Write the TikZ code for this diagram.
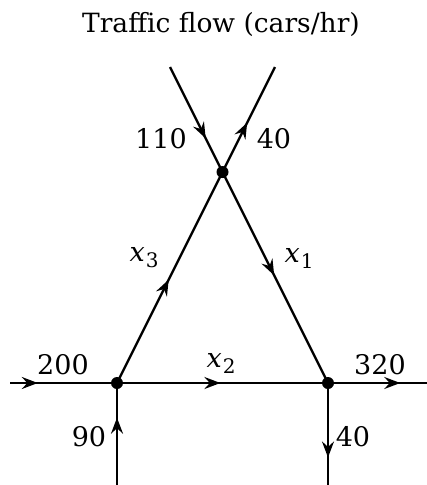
\documentclass[tikz,border=0pt]{standalone}
\usepackage{fontspec}
\setmainfont{DejaVu Serif}
\usetikzlibrary{arrows.meta,decorations.markings}
\tikzset{
  flow/.style={line width=2.3pt},
  flowarrow/.style={flow,postaction={decorate,decoration={markings,
      mark=at position #1 with {\arrow{Stealth[length=16pt,width=12pt,inset=5.5pt]}}}}},
  junction/.style={circle,fill=black,inner sep=0pt,minimum size=12pt},
  lbl/.style={inner sep=0pt,font=\fontsize{27}{32}\selectfont},
  ttl/.style={inner sep=0pt,font=\fontsize{26.5}{31}\selectfont}
}
\newcommand{\flowvar}[1]{\textit{x}\kern1pt\raisebox{-6pt}{\fontsize{20}{20}\selectfont #1}}
\begin{document}
\begin{tikzpicture}[x=1pt,y=-1pt]
\useasboundingbox (0,0) rectangle (427,485);
% coordinates
\coordinate (T) at (222.5,172);
\coordinate (L) at (117,383);
\coordinate (R) at (328,383);
\coordinate (TL) at (170,67);
\coordinate (TR) at (275,67);
\coordinate (W) at (10,383);
\coordinate (E) at (427,383);
\coordinate (SL) at (117,485);
\coordinate (SR) at (328,485);
% connectors
\draw[flowarrow=0.68] (TL) -- (T);
\draw[flowarrow=0.47] (T) -- (TR);
\draw[flowarrow=0.49] (L) -- (T);
\draw[flowarrow=0.49] (T) -- (R);
\draw[flowarrow=0.26] (W) -- (L);
\draw[flowarrow=0.49] (L) -- (R);
\draw[flowarrow=0.73] (R) -- (E);
\draw[flowarrow=0.66] (SL) -- (L);
\draw[flowarrow=0.73] (R) -- (SR);
% junctions
\node[junction] (nT) at (T) {};
\node[junction] (nL) at (L) {};
\node[junction] (nR) at (R) {};
% labels
\node[ttl] (title) at (221,24) {Traffic flow (cars/hr)};
\node[lbl] (l110) at (161,139) {110};
\node[lbl] (l40a) at (274,139) {40};
\node[lbl] (lx3) at (144,258) {\flowvar{3}};
\node[lbl] (lx1) at (299,258) {\flowvar{1}};
\node[lbl] (l200) at (63,365) {200};
\node[lbl] (lx2) at (221,363) {\flowvar{2}};
\node[lbl] (l320) at (380,365) {320};
\node[lbl] (l90) at (89,437) {90};
\node[lbl] (l40b) at (353,437) {40};
\end{tikzpicture}
\end{document}
